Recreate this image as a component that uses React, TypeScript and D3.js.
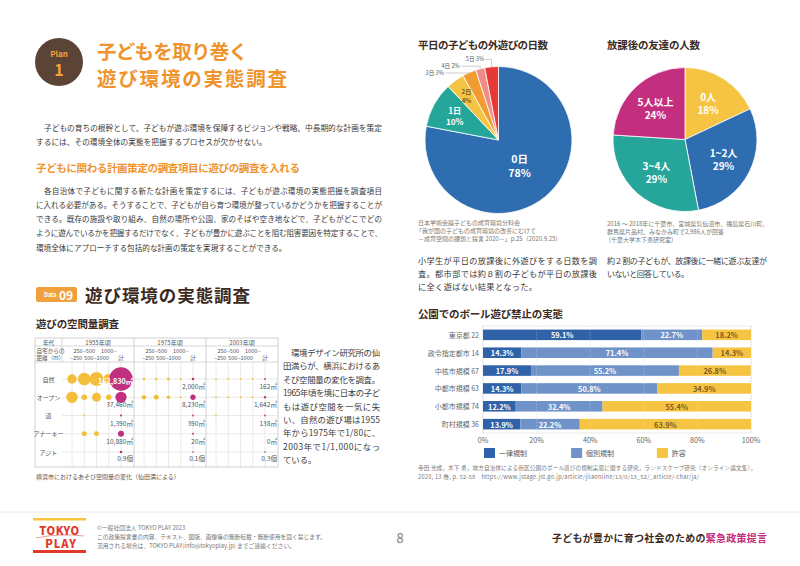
import * as d3 from 'd3'

const FONT = '"Noto Sans CJK JP", "Noto Sans", sans-serif'
const ORANGE = '#f0932b'
const BROWN = '#3b2a20'
const TEXT = '#3a3a3a'
const GRAY = '#777'
const YELLOW = '#f6c443'
const BLUE = '#2e6db0'
const TEAL = '#26a69a'
const MAGENTA = '#c42e7f'

// 平日の子どもの外遊びの日数
const dayLabels = ['0日', '1日', '2日', '3日', '4日', '5日']
const dayShares = [78, 10, 4, 3, 2, 3]
const dayColors = [BLUE, TEAL, YELLOW, '#f29b30', '#f28b88', '#e53935']

// 放課後の友達の人数
const friendLabels = ['0人', '1~2人', '3~4人', '5人以上']
const friendShares = [18, 29, 29, 24]
const friendColors = [YELLOW, BLUE, TEAL, MAGENTA]

// 公園でのボール遊び禁止の実態
const cityTypes = ['東京都 22', '政令指定都市 14', '中核市規模 67', '中都市規模 63', '小都市規模 74', '町村規模 36']
const uniformBan = [59.1, 14.3, 17.9, 14.3, 12.2, 13.9]
const caseBan = [22.7, 71.4, 55.2, 50.8, 32.4, 22.2]
const allowed = [18.2, 14.3, 26.8, 34.9, 55.4, 63.9]
const banKeys = ['一律規制', '個別規制', '許容']
const banColors = ['#2f62a8', '#6f93c9', YELLOW]
const percentTicks = [0, 20, 40, 60, 80, 100]

// 遊びの空間量 (㎡)  rows: 自然, オープン, 道, アナーキー / cols: ~250 .. 1000~, 計
const eras = ['1955年頃', '1975年頃', '2003年頃']
const distances = ['~250', '250~500', '500~1000', '1000~', '計']
const spaceKinds = ['自然', 'オープン', '道', 'アナーキー', 'アジト']
const area1955 = [
  [26000, 47000, 58000, 33000, 162830],
  [40000, 9300, 24000, 9300, 37460],
  [0, 1200, 0, 0, 1390],
  [0, 7400, 7400, 0, 10880],
]
const area1975 = [
  [2000, 2000, 2700, 1200, 2000],
  [5700, 7400, 3900, 1200, 8230],
  [0, 0, 0, 0, 390],
  [0, 0, 0, 0, 20],
]
const area2003 = [
  [600, 600, 600, 600, 162],
  [700, 700, 700, 700, 1642],
  [600, 0, 0, 0, 138],
  [0, 0, 0, 0, 0],
]
// アジト (個)
const hideouts = [0.9, 0.1, 0.3]

type TProps = {
  x: number
  y: number
  s: string
  size?: number
  fill?: string
  weight?: number | string
  anchor?: 'start' | 'middle' | 'end'
  len?: number
}

function T({ x, y, s, size = 8, fill = TEXT, weight = 400, anchor = 'start', len }: TProps) {
  return (
    <text
      x={x}
      y={y}
      fontSize={size}
      fill={fill}
      fontWeight={weight}
      textAnchor={anchor}
      dominantBaseline="central"
      textLength={len}
      lengthAdjust={len ? 'spacing' : undefined}
    >
      {s}
    </text>
  )
}

function Header() {
  return (
    <g>
      <circle cx={59} cy={62} r={24} fill="#5b4336" />
      <T x={59} y={53} s="Plan" size={8} weight={700} fill="#f0a43a" anchor="middle" />
      <T x={59} y={69} s="1" size={16} weight={700} fill="#f0a43a" anchor="middle" />
      <T x={97} y={50} s="子どもを取り巻く" size={19.5} weight={700} fill={ORANGE} len={151} />
      <T x={97} y={77} s="遊び環境の実態調査" size={19.5} weight={700} fill={ORANGE} len={190} />
    </g>
  )
}

const intro = [
  '子どもの育ちの根幹として、子どもが遊ぶ環境を保障するビジョンや戦略、中長期的な計画を策定',
  'するには、その環境全体の実態を把握するプロセスが欠かせない。',
]
const body = [
  '各自治体で子どもに関する新たな計画を策定するには、子どもが遊ぶ環境の実態把握を調査項目',
  'に入れる必要がある。そうすることで、子どもが自ら育つ環境が整っているかどうかを把握することが',
  'できる。既存の施設や取り組み、自然の場所や公園、家のそばや空き地などで、子どもがどこでどの',
  'ように遊んでいるかを把握するだけでなく、子どもが豊かに遊ぶことを阻む阻害要因を特定することで、',
  '環境全体にアプローチする包括的な計画の策定を実現することができる。',
]

function LeftText() {
  return (
    <g>
      {intro.map((s, i) => (
        <T key={s} x={i === 0 ? 44 : 36} y={127 + i * 14} s={s} size={7.7} len={i === 0 ? 338 : undefined} />
      ))}
      <T x={36} y={167} s="子どもに関わる計画策定の調査項目に遊びの調査を入れる" size={10.5} weight={700} fill={ORANGE} len={264} />
      {body.map((s, i) => (
        <T
          key={s}
          x={i === 0 ? 44 : 36}
          y={190 + i * 14.3}
          s={s}
          size={7.6}
          len={i === body.length - 1 ? undefined : i === 0 ? 338 : 346}
        />
      ))}
      <rect x={36} y={287} width={41} height={15} rx={2} fill="#f0a03c" />
      <T x={44} y={295} s="Data" size={5.5} weight={700} fill="#fff" />
      <T x={59} y={294.5} s="09" size={12} weight={700} fill="#fff" />
      <T x={85} y={294} s="遊び環境の実態調査" size={17.5} weight={700} fill={BROWN} len={165} />
      <T x={36} y={323} s="遊びの空間量調査" size={10.5} weight={700} fill={BROWN} len={83} />
    </g>
  )
}

const spaceNote = [
  '環境デザイン研究所の仙',
  '田満らが、横浜におけるあ',
  'そび空間量の変化を調査。',
  '1965年頃を境に日本の子ど',
  'もは遊び空間を一気に失',
  'い、自然の遊び場は1955',
  '年から1975年で1/80に、',
  '2003年で1/1,000になっ',
  'ている。',
]

function SpaceChart() {
  const left = 35
  const right = 278
  const top = 338
  const bottom = 467
  const labelCol = 62
  const headDiv1 = 346
  const headDiv2 = 362
  const eraX = d3.scaleBand<string>().domain(eras).range([labelCol, right])
  const colX = d3.scalePoint<string>().domain(distances).range([10, 59])
  const rowY = d3.scalePoint<string>().domain(spaceKinds).range([379, 452])
  const r = d3.scaleSqrt().domain([0, 162830]).range([0, 11.7])
  const rHide = d3.scaleSqrt().domain([0, 0.9]).range([0, 1.3])
  const fmt = d3.format(',')
  const eraData = [area1955, area1975, area2003]
  const gridLine = '#e4e4e4'
  const frame = '#bdbdbd'

  const dots: JSX.Element[] = []
  const labels: JSX.Element[] = []
  eras.forEach((era, ei) => {
    const x0 = eraX(era)!
    eraData[ei].forEach((row, ri) => {
      const kind = spaceKinds[ri]
      const y = rowY(kind)!
      row.forEach((v, ci) => {
        const cx = x0 + colX(distances[ci])!
        const total = ci === distances.length - 1
        if (v > 0) {
          dots.push(
            <circle
              key={`${era}-${kind}-${ci}`}
              cx={cx}
              cy={y}
              r={Math.max(0.9, r(v))}
              fill={total ? '#c0307f' : '#f3bf3b'}
            />,
          )
        }
        if (total) {
          const inside = r(v) > 8
          labels.push(
            <T
              key={`l-${era}-${kind}`}
              x={x0 + eraX.bandwidth() - 1}
              y={inside ? y + 1.5 : y + 7}
              s={`${fmt(v)}㎡`}
              size={inside ? 7.2 : 6.6}
              weight={inside ? 700 : 400}
              fill={inside ? '#fff' : '#555'}
              anchor="end"
            />,
          )
        }
      })
    })
    const hy = rowY('アジト')!
    const hv = hideouts[ei]
    dots.push(
      <circle key={`h-${era}`} cx={x0 + colX('計')!} cy={hy} r={Math.max(0.8, rHide(hv))} fill="#c0307f" />,
    )
    labels.push(
      <T key={`hl-${era}`} x={x0 + eraX.bandwidth() - 1} y={hy + 6} s={`${hv}個`} size={6.6} fill="#555" anchor="end" />,
    )
  })

  return (
    <g>
      {/* grid */}
      {eras.map(era =>
        distances.map(d => (
          <line
            key={`v-${era}-${d}`}
            x1={eraX(era)! + colX(d)!}
            x2={eraX(era)! + colX(d)!}
            y1={headDiv2}
            y2={bottom}
            stroke={gridLine}
            strokeWidth={0.8}
          />
        )),
      )}
      {spaceKinds.map(k => (
        <line key={`h-${k}`} x1={labelCol} x2={right} y1={rowY(k)!} y2={rowY(k)!} stroke={gridLine} strokeWidth={0.8} />
      ))}
      <rect x={left} y={top} width={right - left} height={bottom - top} fill="none" stroke={frame} strokeWidth={0.7} />
      <line x1={left} x2={right} y1={headDiv1} y2={headDiv1} stroke={frame} strokeWidth={0.6} />
      <line x1={left} x2={right} y1={headDiv2} y2={headDiv2} stroke={frame} strokeWidth={0.6} />
      <line x1={labelCol} x2={labelCol} y1={top} y2={headDiv2} stroke={frame} strokeWidth={0.6} />
      {eras.slice(1).map(era => (
        <line key={`d-${era}`} x1={eraX(era)!} x2={eraX(era)!} y1={top} y2={bottom} stroke={frame} strokeWidth={0.7} />
      ))}
      {/* headers */}
      <T x={(left + labelCol) / 2} y={342} s="年代" size={5.8} fill="#555" anchor="middle" />
      <T x={36.5} y={350.5} s="自宅からの" size={5.6} fill="#555" />
      <T x={36.5} y={357.5} s="距離（m）" size={5.6} fill="#555" />
      {eras.map(era => (
        <g key={`hd-${era}`}>
          <T x={eraX(era)! + eraX.bandwidth() / 2} y={342} s={era} size={6} fill="#555" anchor="middle" />
          {distances.map((d, i) => (
            <T
              key={d}
              x={eraX(era)! + colX(d)! + (i === 0 ? 4 : 0)}
              y={i % 2 === 1 ? 350.5 : 357.5}
              s={d}
              size={5.6}
              fill="#555"
              anchor="middle"
            />
          ))}
        </g>
      ))}
      {spaceKinds.map(k => (
        <T key={`rl-${k}`} x={48.5} y={rowY(k)!} s={k} size={6} fill="#555" anchor="middle" />
      ))}
      {dots}
      {labels}
      <T x={36} y={476} s="横浜市におけるあそび空間量の変化（仙田満による）" size={6} fill="#555" />
      {spaceNote.map((s, i) => (
        <T
          key={s}
          x={i === 0 ? 291 : 283}
          y={352 + i * 13.4}
          s={s}
          size={8.4}
          len={i === spaceNote.length - 1 ? undefined : i === 0 ? 89 : 97}
        />
      ))}
    </g>
  )
}

function DaysPie() {
  const cx = 498.5
  const cy = 140
  const R = 73.5
  const pie = d3.pie<number>().sort(null).value(d => d)
  const arcs = pie(dayShares)
  const arc = d3.arc<d3.PieArcDatum<number>>().innerRadius(0).outerRadius(R)
  const mid = (a: d3.PieArcDatum<number>) => (a.startAngle + a.endAngle) / 2
  const at = (a: d3.PieArcDatum<number>, k: number) => [cx + Math.sin(mid(a)) * k, cy - Math.cos(mid(a)) * k]
  // outer labels for the three thinnest slices, stacked upward
  const outer = [3, 4, 5]
  const leader = [24, 19, 6]
  return (
    <g>
      <T x={418} y={44} s="平日の子どもの外遊びの日数" size={10.5} weight={700} fill={BROWN} len={130} />
      <g transform={`translate(${cx},${cy})`}>
        {arcs.map((a, i) => (
          <path key={dayLabels[i]} d={arc(a)!} fill={dayColors[i]} stroke="#fff" strokeWidth={0.8} />
        ))}
      </g>
      {[0].map(i => {
        const [x, y] = at(arcs[i], R * 0.45)
        return (
          <g key="big">
            <T x={x} y={y - 7} s={dayLabels[i]} size={10.5} weight={700} fill="#fff" anchor="middle" />
            <T x={x} y={y + 7} s={`${dayShares[i]}%`} size={10.5} weight={700} fill="#fff" anchor="middle" />
          </g>
        )
      })}
      {[1, 2].map(i => {
        const [x, y] = at(arcs[i], R * (i === 1 ? 0.68 : 0.74))
        const small = i === 2
        return (
          <g key={dayLabels[i]}>
            <T x={x} y={y - (small ? 4.5 : 5.5)} s={dayLabels[i]} size={small ? 6.2 : 8.2} weight={700} fill={small ? '#7a5a20' : '#fff'} anchor="middle" />
            <T x={x} y={y + (small ? 4.5 : 5.5)} s={`${dayShares[i]}%`} size={small ? 6.2 : 8.2} weight={700} fill={small ? '#7a5a20' : '#fff'} anchor="middle" />
          </g>
        )
      })}
      {outer.map((i, k) => {
        const [px, py] = at(arcs[i], R)
        const ly = 73 - k * 6.8
        const lx = px - leader[k]
        return (
          <g key={dayLabels[i]}>
            <polyline points={`${lx},${ly} ${px},${ly} ${px},${py}`} fill="none" stroke="#999" strokeWidth={0.5} />
            <T x={lx - 1.5} y={ly} s={`${dayLabels[i]} ${dayShares[i]}%`} size={5.6} fill="#555" anchor="end" />
          </g>
        )
      })}
      <T x={418} y={222} s="日本学術会議子どもの成育環境分科会" size={6} fill={GRAY} />
      <T x={416} y={230} s="「我が国の子どもの成育環境の改善にむけて" size={6} fill={GRAY} />
      <T x={418} y={238} s="－成育空間の課題と提言 2020－」p.25（2020.9.25）" size={6} fill={GRAY} />
      <T x={418} y={260} s="小学生が平日の放課後に外遊びをする日数を調" size={8.2} len={179} />
      <T x={418} y={273} s="査。都市部では約８割の子どもが平日の放課後" size={8.2} len={179} />
      <T x={418} y={286} s="に全く遊ばない結果となった。" size={8.2} len={119} />
    </g>
  )
}

function FriendsPie() {
  const cx = 685
  const cy = 139.5
  const R = 72
  const pie = d3.pie<number>().sort(null).value(d => d)
  const arcs = pie(friendShares)
  const arc = d3.arc<d3.PieArcDatum<number>>().innerRadius(0).outerRadius(R)
  return (
    <g>
      <T x={607} y={44} s="放課後の友達の人数" size={10.5} weight={700} fill={BROWN} len={93} />
      <g transform={`translate(${cx},${cy})`}>
        {arcs.map((a, i) => (
          <path key={friendLabels[i]} d={arc(a)!} fill={friendColors[i]} stroke="#fff" strokeWidth={0.8} />
        ))}
        {arcs.map((a, i) => {
          const m = (a.startAngle + a.endAngle) / 2
          const x = Math.sin(m) * R * 0.6
          const y = -Math.cos(m) * R * 0.6
          return (
            <g key={`t-${friendLabels[i]}`}>
              <T x={x} y={y - 6.5} s={friendLabels[i]} size={10} weight={700} fill="#fff" anchor="middle" />
              <T x={x} y={y + 6.5} s={`${friendShares[i]}%`} size={10} weight={700} fill="#fff" anchor="middle" />
            </g>
          )
        })}
      </g>
      <T x={607} y={223} s="2016 ～ 2018年に千葉市、宮城県気仙沼市、福島県石川町、" size={6} fill={GRAY} />
      <T x={607} y={231} s="群馬県片品村、みなかみ町で2,986人が回答" size={6} fill={GRAY} />
      <T x={605} y={239} s="（千葉大学木下勇研究室）" size={6} fill={GRAY} />
      <T x={607} y={260} s="約２割の子どもが、放課後に一緒に遊ぶ友達が" size={8} len={160} />
      <T x={607} y={273} s="いないと回答している。" size={8} len={82} />
    </g>
  )
}

function BallChart() {
  const x = d3.scaleLinear().domain([0, 100]).range([483, 751])
  const y = d3.scaleBand<string>().domain(cityTypes).range([326, 433]).paddingInner(0.41).paddingOuter(0.2)
  const rows = cityTypes.map((c, i) => ({ city: c, 一律規制: uniformBan[i], 個別規制: caseBan[i], 許容: allowed[i] }))
  const series = d3.stack<any>().keys(banKeys)(rows)
  const legendAt = [0, 32.5, 64.5]
  return (
    <g>
      <T x={418} y={313} s="公園でのボール遊び禁止の実態" size={10.5} weight={700} fill={BROWN} len={145} />
      <rect x={x(0)} y={326} width={x(100) - x(0)} height={107} fill="none" stroke="#e2e2e2" strokeWidth={0.7} />
      {percentTicks.map(t => (
        <line key={`g-${t}`} x1={x(t)} x2={x(t)} y1={326} y2={433} stroke="#d8d8d8" strokeWidth={0.6} strokeDasharray="1.5 1.5" />
      ))}
      {series.map((s, si) =>
        s.map((d, i) => (
          <rect
            key={`${s.key}-${i}`}
            x={x(d[0])}
            y={y(cityTypes[i])!}
            width={x(d[1]) - x(d[0])}
            height={y.bandwidth()}
            fill={banColors[si]}
          />
        )),
      )}
      {percentTicks.slice(1, -1).map(t => (
        <line key={`w-${t}`} x1={x(t)} x2={x(t)} y1={326} y2={433} stroke="#fff" strokeOpacity={0.45} strokeWidth={0.6} strokeDasharray="1.5 1.5" />
      ))}
      {series.map((s, si) =>
        s.map((d, i) => (
          <T
            key={`v-${s.key}-${i}`}
            x={(x(d[0]) + x(d[1])) / 2}
            y={y(cityTypes[i])! + y.bandwidth() / 2}
            s={`${(d[1] - d[0]).toFixed(1)}%`}
            size={7.4}
            weight={700}
            fill={si === 2 ? '#7a5a20' : '#fff'}
            anchor="middle"
          />
        )),
      )}
      {cityTypes.map(c => (
        <T key={c} x={479} y={y(c)! + y.bandwidth() / 2} s={c} size={7} fill="#666" anchor="end" />
      ))}
      {percentTicks.map(t => (
        <T key={`t-${t}`} x={x(t)} y={440} s={`${t}%`} size={7.2} fill="#666" anchor="middle" />
      ))}
      {banKeys.map((k, i) => (
        <g key={k}>
          <rect x={x(legendAt[i]) + 1} y={448} width={11} height={10} fill={banColors[i]} />
          <T x={x(legendAt[i]) + 16} y={453} s={k} size={7} fill="#555" />
        </g>
      ))}
      <T x={418} y={468} s="寺田 光成，木下 勇，地方自治体による街区公園のボール遊びの規制実態に関する研究，ランドスケープ研究（オンライン論文集），" size={5.6} fill={GRAY} len={338} />
      <T x={418} y={477} s="2020, 13 巻, p. 52-58　https://www.jstage.jst.go.jp/article/jilaonline/13/0/13_52/_article/-char/ja/" size={5.6} fill={GRAY} len={281} />
    </g>
  )
}

function Footer() {
  const red = '#e03a2b'
  return (
    <g>
      <line x1={0} x2={800} y1={512} y2={512} stroke="#e8e8e8" strokeWidth={1} />
      <rect x={33} y={518} width={53} height={2.5} fill="#f7c63c" />
      <rect x={33} y={550} width={53} height={3} fill={red} />
      <text x={59.5} y={535} fontSize={11} fontWeight={900} fill={red} textAnchor="middle" letterSpacing={0.5}>
        TOKYO
      </text>
      <path d="M36,538 Q60,533 84,536" fill="none" stroke={red} strokeWidth={0.5} />
      <text x={61} y={548} fontSize={11} fontWeight={900} fill={red} textAnchor="middle" letterSpacing={1}>
        PLAY
      </text>
      <T x={97} y={527} s="©一般社団法人 TOKYO PLAY 2023" size={5.8} fill={GRAY} />
      <T x={97} y={536} s="この政策提言書の内容、テキスト、図版、画像等の無断転載・無断使用を固く禁じます。" size={5.8} fill={GRAY} len={229} />
      <T x={97} y={545} s="流用される場合は、TOKYO PLAY(info@tokyoplay.jp) までご連絡ください。" size={5.8} fill={GRAY} len={198} />
      <T x={400} y={537} s="8" size={13} fill="#8a7a6a" anchor="middle" />
      <text x={552} y={537} fontSize={10} fontWeight={700} dominantBaseline="central" fill={BROWN} textLength={215} lengthAdjust="spacing">
        子どもが豊かに育つ社会のための<tspan fill="#c2297a">緊急政策提言</tspan>
      </text>
    </g>
  )
}

export default function App() {
  return (
    <svg
      width={800}
      height={566}
      viewBox="0 0 800 566"
      style={{ position: 'absolute', left: 0, top: 0, background: '#fff', fontFamily: FONT }}
    >
      <rect width={800} height={566} fill="#fff" />
      <Header />
      <LeftText />
      <SpaceChart />
      <DaysPie />
      <FriendsPie />
      <BallChart />
      <Footer />
    </svg>
  )
}
